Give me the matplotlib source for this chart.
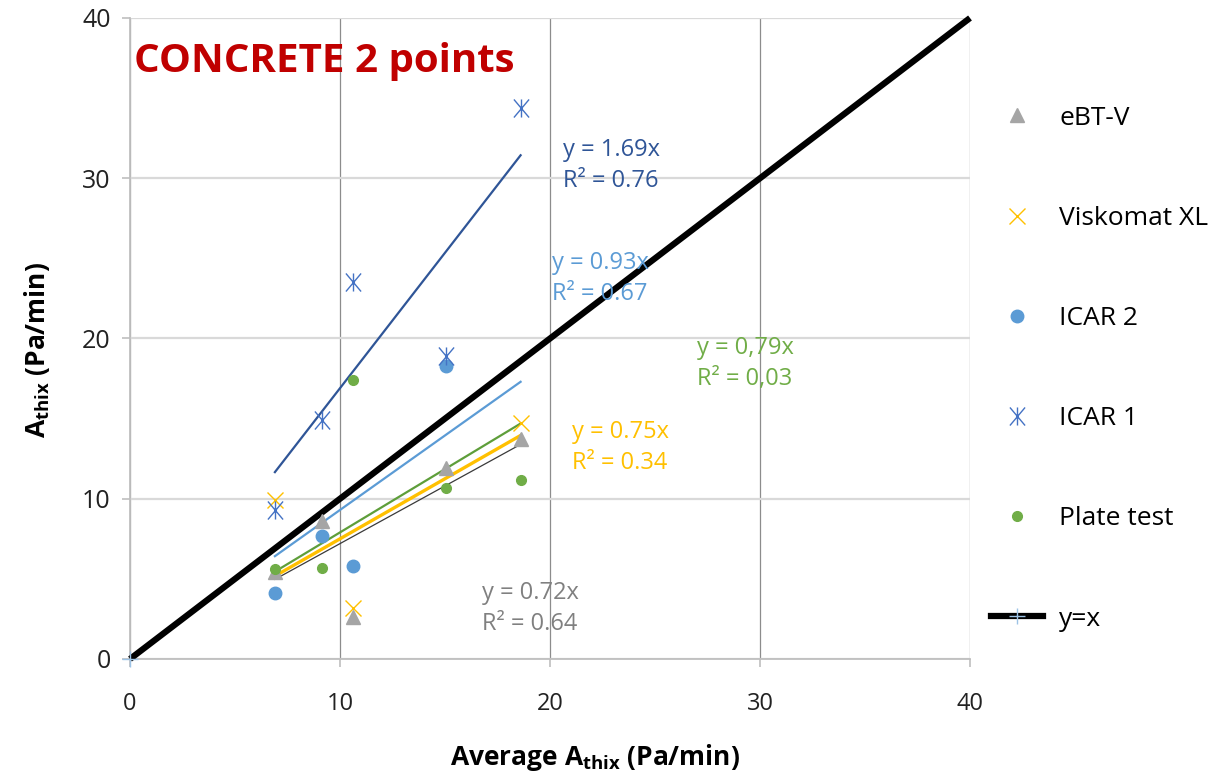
import numpy as np
import matplotlib
matplotlib.use("Agg")
import matplotlib.pyplot as plt
from matplotlib.path import Path
from matplotlib.lines import Line2D

plt.rcParams['font.family'] = ['Open Sans', 'DejaVu Sans']
plt.rcParams['mathtext.fontset'] = 'custom'
plt.rcParams['mathtext.rm'] = 'Open Sans'
plt.rcParams['mathtext.bf'] = 'Open Sans:bold'

# average A_thix (x) for the five mixes
avg_x = [6.9, 9.15, 10.6, 15.05, 18.6]

ebtv = [5.4, 8.6, 2.6, 11.9, 13.7]
visk_x = [6.9, 10.6, 18.6]
viskomat = [9.9, 3.2, 14.7]
icar2_x = [6.9, 9.15, 10.6, 15.05]
icar2 = [4.1, 7.7, 5.8, 18.3]
icar1 = [9.3, 14.9, 23.5, 18.9, 34.4]
plate = [5.6, 5.7, 17.4, 10.7, 11.2]

# trendline slopes (through origin) and labels as printed
slopes = {'eBT-V': 0.72, 'Viskomat XL': 0.75, 'ICAR 2': 0.93, 'ICAR 1': 1.69, 'Plate test': 0.79}
eq_text = {
    'ICAR 1': "y = 1.69x\nR² = 0.76",
    'ICAR 2': "y = 0.93x\nR² = 0.67",
    'Plate test': "y = 0,79x\nR² = 0,03",
    'Viskomat XL': "y = 0.75x\nR² = 0.34",
    'eBT-V': "y = 0.72x\nR² = 0.64",
}
eq_pos = {
    'ICAR 1': (20.6, 30.8),
    'ICAR 2': (20.1, 23.75),
    'Plate test': (27.0, 18.45),
    'Viskomat XL': (21.05, 13.2),
    'eBT-V': (16.75, 3.15),
}

# asterisk marker like Excel's
ast = Path([(-0.42, -0.5), (0.42, 0.5), (-0.42, 0.5), (0.42, -0.5), (0, -0.5), (0, 0.5)],
           [Path.MOVETO, Path.LINETO, Path.MOVETO, Path.LINETO, Path.MOVETO, Path.LINETO])

fig = plt.figure(figsize=(12.21, 7.78), dpi=100)
ax = fig.add_axes([130/1221, 119/778, 840/1221, 641/778])

xr = np.array([min(avg_x), max(avg_x)])
ax.plot(xr, slopes['ICAR 1'] * xr, color='#2F5597', lw=1.6, zorder=3)
ax.plot(xr, slopes['ICAR 2'] * xr, color='#5B9BD5', lw=1.6, zorder=3)
ax.plot(xr, slopes['Plate test'] * xr, color='#5E9E3A', lw=1.6, zorder=3)
ax.plot(xr, slopes['Viskomat XL'] * xr, color='#FFC000', lw=2.4, zorder=3)
ax.plot(xr, slopes['eBT-V'] * xr, color='#3A3A3A', lw=0.9, zorder=3)

ax.plot([0, 40], [0, 40], color='black', lw=4.5, zorder=4, clip_on=False, solid_capstyle='butt')
ax.plot([0, 40], [0, 40], ls='none', marker='+', ms=11, mew=1, color='#9DC3E6',
        markevery=[0], zorder=5, clip_on=False)

ax.plot(avg_x, ebtv, ls='none', marker='^', ms=10, color='#A5A5A5', zorder=6)
ax.plot(visk_x, viskomat, ls='none', marker='x', ms=12, mew=1, color='#FFC000', zorder=6)
ax.plot(icar2_x, icar2, ls='none', marker='o', ms=9, color='#5B9BD5', zorder=6)
ax.plot(avg_x, icar1, ls='none', marker=ast, ms=13, mew=1, color='#4472C4', zorder=6)
ax.plot(avg_x, plate, ls='none', marker='o', ms=7, color='#70AD47', zorder=6)

colors = {'ICAR 1': '#2F5597', 'ICAR 2': '#5B9BD5', 'Plate test': '#70AD47',
          'Viskomat XL': '#FFC000', 'eBT-V': '#808080'}
for k, txt in eq_text.items():
    ax.text(eq_pos[k][0], eq_pos[k][1], txt, color=colors[k], fontsize=17,
            ha='left', va='center', linespacing=1.4, zorder=7)

ax.text(0.2, 37.3, "CONCRETE 2 points", color='#C00000', fontsize=29,
        fontweight='bold', ha='left', va='center', zorder=7)

ax.set_xlim(0, 40)
ax.set_ylim(0, 40)
ax.set_xticks([0, 10, 20, 30, 40])
ax.set_yticks([0, 10, 20, 30, 40])
ax.xaxis.grid(True, color='#8C8C8C', lw=0.9)
ax.yaxis.grid(True, color='#D9D9D9', lw=1.6)
ax.set_axisbelow(True)
for s in ['top', 'right']:
    ax.spines[s].set_visible(False)
for s in ['left', 'bottom']:
    ax.spines[s].set_color('#BFBFBF')
    ax.spines[s].set_linewidth(1.3)
ax.tick_params(axis='both', colors='#BFBFBF', labelcolor='#222222', length=6, width=1.2)
ax.tick_params(axis='x', pad=18, labelsize=17)
ax.tick_params(axis='y', pad=8, labelsize=18)

ax.set_xlabel(r"Average A$_{\mathbf{thix}}$ (Pa/min)", fontsize=19, fontweight='bold')
ax.set_ylabel(r"A$_{\mathbf{thix}}$ (Pa/min)", fontsize=19, fontweight='bold')
ax.xaxis.set_label_coords((595 - 130) / 840, -(742 - 659) / 641)
ax.yaxis.set_label_coords(-(130 - 52) / 840, (659 - 350) / 641)

handles = [
    Line2D([], [], ls='none', marker='^', ms=10, color='#A5A5A5'),
    Line2D([], [], ls='none', marker='x', ms=12, mew=1, color='#FFC000'),
    Line2D([], [], ls='none', marker='o', ms=9, color='#5B9BD5'),
    Line2D([], [], ls='none', marker=ast, ms=13, mew=1, color='#4472C4'),
    Line2D([], [], ls='none', marker='o', ms=7, color='#70AD47'),
    Line2D([], [], color='black', lw=4.5, marker='+', ms=11, mew=1, mec='#9DC3E6'),
]
labels = ['eBT-V', 'Viskomat XL', 'ICAR 2', 'ICAR 1', 'Plate test', 'y=x']
fig.legend(handles, labels, loc='upper left', bbox_to_anchor=(980/1221, 1 - 95/778),
           frameon=False, fontsize=19, labelspacing=2.85, handlelength=2.0,
           handletextpad=0.6, borderaxespad=0)

fig.savefig("out.png", dpi=100)
